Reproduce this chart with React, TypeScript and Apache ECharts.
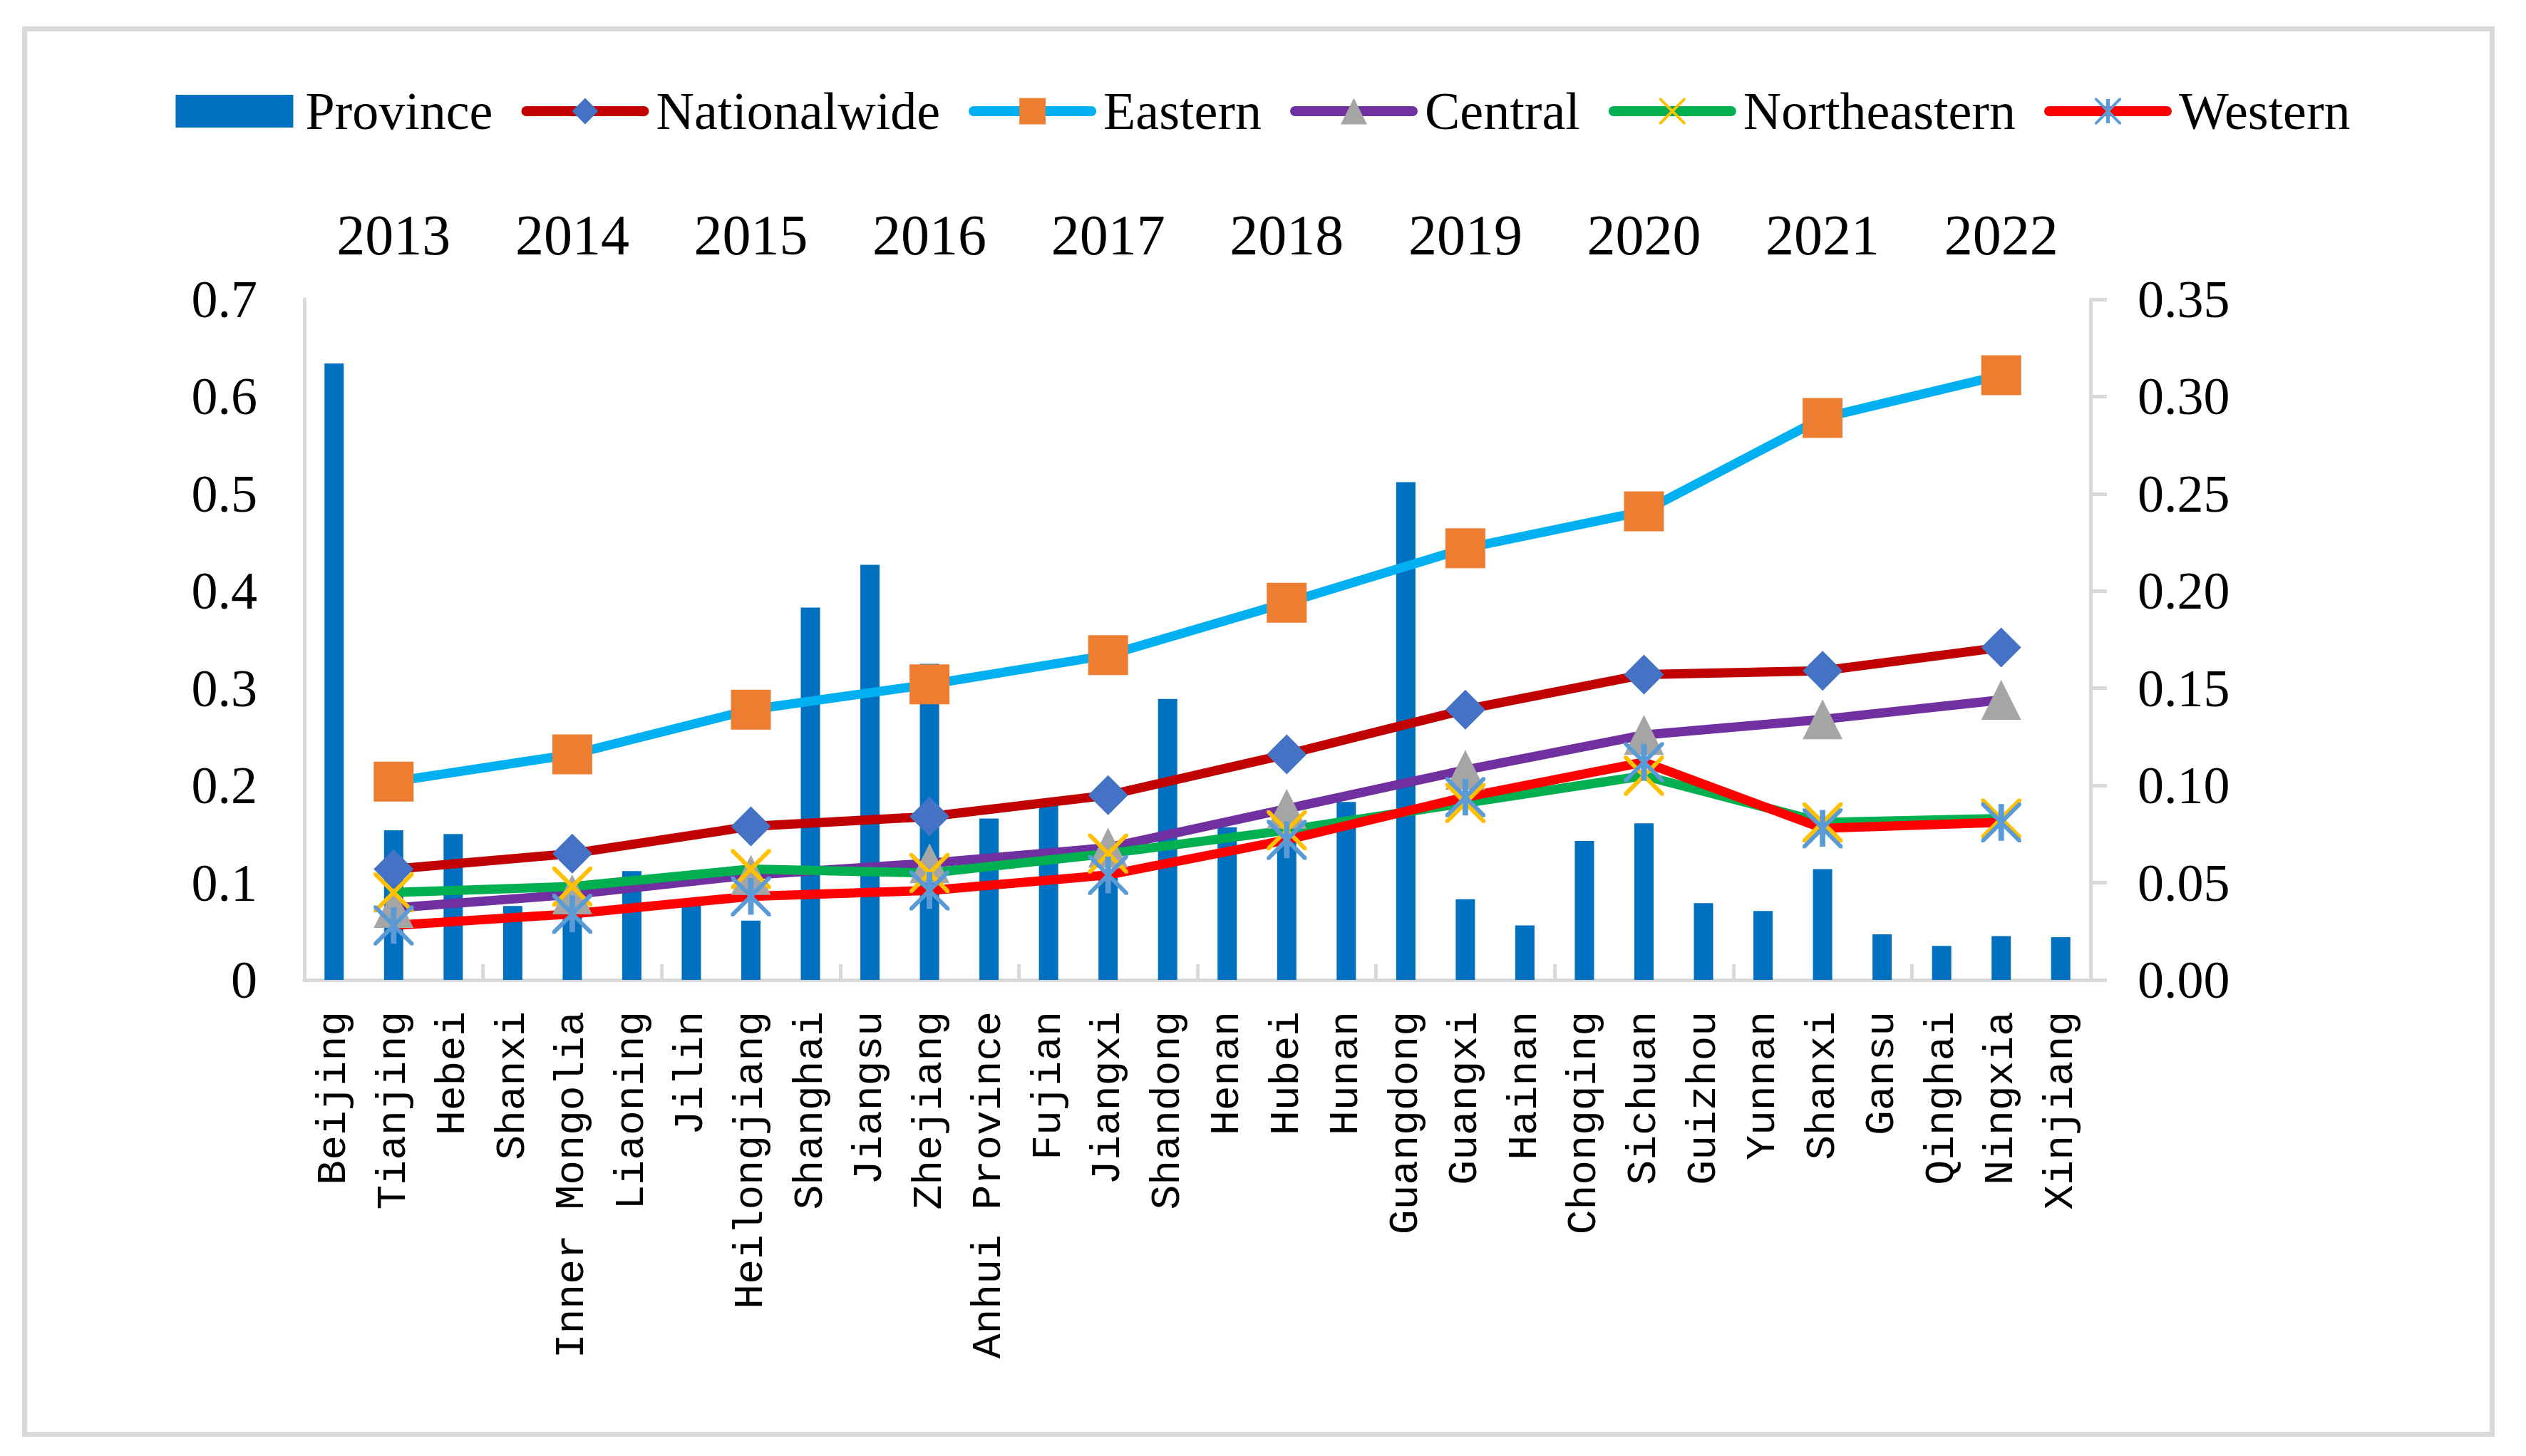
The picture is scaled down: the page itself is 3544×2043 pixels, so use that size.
import React, { useEffect, useRef } from "react";
import * as echarts from "echarts";

const provinces = [
  "Beijing", "Tianjing", "Hebei", "Shanxi", "Inner Mongolia", "Liaoning", "Jilin",
  "Heilongjiang", "Shanghai", "Jiangsu", "Zhejiang", "Anhui Province", "Fujian", "Jiangxi",
  "Shandong", "Henan", "Hubei", "Hunan", "Guangdong", "Guangxi", "Hainan", "Chongqing",
  "Sichuan", "Guizhou", "Yunnan", "Shanxi", "Gansu", "Qinghai", "Ningxia", "Xinjiang",
];
const provinceValues = [
  0.634, 0.154, 0.15, 0.076, 0.09, 0.112, 0.08, 0.061, 0.383, 0.427, 0.325, 0.166, 0.18,
  0.105, 0.289, 0.157, 0.145, 0.183, 0.512, 0.083, 0.056, 0.143, 0.161, 0.079, 0.071,
  0.114, 0.047, 0.035, 0.045, 0.044,
];

const years = ["2013", "2014", "2015", "2016", "2017", "2018", "2019", "2020", "2021", "2022"];
const nationalwide = [0.057, 0.065, 0.079, 0.084, 0.095, 0.116, 0.139, 0.157, 0.159, 0.171];
const eastern = [0.102, 0.116, 0.139, 0.152, 0.167, 0.194, 0.222, 0.241, 0.289, 0.311];
const central = [0.037, 0.044, 0.054, 0.06, 0.068, 0.088, 0.108, 0.126, 0.134, 0.144];
const northeastern = [0.045, 0.048, 0.057, 0.055, 0.065, 0.077, 0.091, 0.105, 0.081, 0.083];
const western = [0.028, 0.034, 0.043, 0.046, 0.054, 0.072, 0.094, 0.112, 0.078, 0.081];

const legendNames = ["Province", "Nationalwide", "Eastern", "Central", "Northeastern", "Western"];

const X_SHAPE =
  "M1.5,0 L10,8.5 L18.5,0 L20,0 L20,1.5 L11.5,10 L20,18.5 L20,20 L18.5,20 L10,11.5 L1.5,20 L0,20 L0,18.5 L8.5,10 L0,1.5 L0,0 Z";
const X_SYMBOL = "path://" + X_SHAPE;
const STAR_SYMBOL = "path://" + X_SHAPE + " M8.6,0.8 L11.4,0.8 L11.4,19.2 L8.6,19.2 Z";

export default function App() {
  const ref = useRef<HTMLDivElement>(null);

  useEffect(() => {
    const chart = echarts.init(ref.current as HTMLDivElement, undefined, { renderer: "svg" });
    const serif = "Liberation Serif";
    const gray = "#D9D9D9";

    const lineSeries = (
      name: string,
      data: number[],
      lineColor: string,
      markerColor: string,
      symbol: string
    ) => ({
      name,
      type: "line",
      xAxisIndex: 1,
      yAxisIndex: 1,
      data,
      symbol,
      symbolSize: 56,
      showSymbol: true,
      lineStyle: { color: lineColor, width: 13, cap: "round", join: "round" },
      itemStyle: { color: markerColor, borderWidth: 0 },
      emphasis: { disabled: true },
    });

    chart.setOption({
      animation: false,
      backgroundColor: "#ffffff",
      graphic: [
        {
          type: "rect",
          silent: true,
          z: -10,
          shape: { x: 34.5, y: 40.5, width: 3462, height: 1972 },
          style: { fill: "none", stroke: gray, lineWidth: 7 },
        },
      ],
      legend: {
        top: 114,
        left: "center",
        itemWidth: 165,
        itemHeight: 46,
        itemGap: 40,
        lineStyle: { width: 14, cap: "round" },
        textStyle: { fontFamily: serif, fontSize: 74, color: "#000", padding: [0, 0, 0, 12] },
        data: legendNames.map((n, i) => (i === 0 ? { name: n, icon: "rect" } : { name: n })),
      },
      grid: { left: 427, right: 611, top: 420, bottom: 668, containLabel: false },
      xAxis: [
        {
          type: "category",
          position: "bottom",
          data: provinces,
          axisLine: { show: true, lineStyle: { color: gray, width: 5 } },
          axisTick: { show: false },
          axisLabel: {
            rotate: 90,
            interval: 0,
            margin: 44,
            fontFamily: "Liberation Mono",
            fontSize: 58,
            color: "#000",
          },
        },
        {
          type: "category",
          position: "top",
          data: years,
          axisLine: { show: true, lineStyle: { color: gray, width: 5 } },
          axisTick: { show: true, length: 22, lineStyle: { color: gray, width: 5 } },
          axisLabel: { interval: 0, margin: 50, fontFamily: serif, fontSize: 80, color: "#000" },
        },
      ],
      yAxis: [
        {
          type: "value",
          position: "left",
          min: 0,
          max: 0.7,
          interval: 0.1,
          axisLine: { show: true, lineStyle: { color: gray, width: 5 } },
          axisTick: { show: false },
          splitLine: { show: false },
          axisLabel: { margin: 66, fontFamily: serif, fontSize: 74, color: "#000" },
        },
        {
          type: "value",
          position: "right",
          min: 0,
          max: 0.35,
          interval: 0.05,
          axisLine: { show: true, lineStyle: { color: gray, width: 5 } },
          axisTick: { show: true, length: 23, lineStyle: { color: gray, width: 5 } },
          splitLine: { show: false },
          axisLabel: {
            margin: 66,
            fontFamily: serif,
            fontSize: 74,
            color: "#000",
            formatter: (v: number) => v.toFixed(2),
          },
        },
      ],
      series: [
        {
          name: "Province",
          type: "bar",
          xAxisIndex: 0,
          yAxisIndex: 0,
          data: provinceValues,
          barWidth: 27,
          itemStyle: { color: "#0070C0" },
          emphasis: { disabled: true },
        },
        lineSeries("Nationalwide", nationalwide, "#C00000", "#4472C4", "diamond"),
        lineSeries("Eastern", eastern, "#00B0F0", "#ED7D31", "rect"),
        lineSeries("Central", central, "#7030A0", "#A5A5A5", "triangle"),
        lineSeries("Northeastern", northeastern, "#00B050", "#FFC000", X_SYMBOL),
        lineSeries("Western", western, "#FF0000", "#5B9BD5", STAR_SYMBOL),
      ],
    });

    return () => chart.dispose();
  }, []);

  return (
    <div
      ref={ref}
      style={{ position: "fixed", left: 0, top: 0, width: 3544, height: 2043 }}
    />
  );
}
